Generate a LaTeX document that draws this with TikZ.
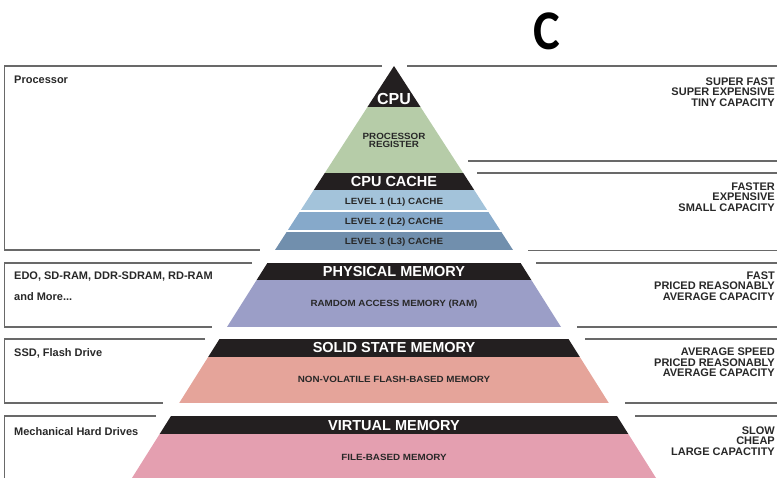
\documentclass[tikz,border=0pt]{standalone}
\usepackage{fontspec}
\setmainfont{Liberation Sans}
\newfontfamily\calfont{Carlito}[FakeStretch=0.9]
\newfontfamily\widefont{Liberation Sans}[FakeStretch=1.09]

\definecolor{bandblack}{RGB}{35,31,32}
\definecolor{reggreen}{RGB}{182,204,168}
\definecolor{lone}{RGB}{163,195,218}
\definecolor{ltwo}{RGB}{134,169,202}
\definecolor{lthree}{RGB}{113,143,173}
\definecolor{ramviolet}{RGB}{155,158,199}
\definecolor{flashsalmon}{RGB}{229,164,154}
\definecolor{filepink}{RGB}{228,159,176}
\definecolor{rulegray}{RGB}{105,105,105}
\definecolor{labeldark}{RGB}{40,40,40}

\begin{document}
\begin{tikzpicture}[x=1pt,y=-1pt,
  rule/.style={draw=rulegray, line width=1.3pt},
  bandtitle/.style={text=white, font=\bfseries\fontsize{14.5}{14.5}\selectfont, anchor=base, inner sep=0pt},
  bandtext/.style={text=labeldark, font=\widefont\bfseries\fontsize{9}{8.2}\selectfont, anchor=base, inner sep=0pt},
  sidenote/.style={text=labeldark, font=\bfseries\fontsize{11}{11}\selectfont, anchor=base west, inner sep=0pt},
  traits/.style={text=labeldark, font=\bfseries\fontsize{11}{10.3}\selectfont, align=right, anchor=east, inner sep=0pt}]

\useasboundingbox (0,0) rectangle (777,478);

% heading letter
\node[font=\calfont\bfseries\fontsize{56}{56}\selectfont, anchor=base, inner sep=0pt] (letter) at (547,50) {C};

% ---- tier 1: processor ----
\begin{scope}
  \clip (394,66) -- (275,250) -- (513,250) -- cycle;
  \fill[bandblack] (250,60) rectangle (540,107);
  \fill[reggreen] (250,107) rectangle (540,173);
  \fill[bandblack] (250,173) rectangle (540,190);
  \fill[lone] (250,190) rectangle (540,210);
  \fill[ltwo] (250,212) rectangle (540,230);
  \fill[lthree] (250,232) rectangle (540,250);
\end{scope}

% ---- tier 2: physical memory ----
\begin{scope}
  \clip (267.4,263) -- (520.6,263) -- (561,327) -- (227,327) -- cycle;
  \fill[bandblack] (200,263) rectangle (600,280);
  \fill[ramviolet] (200,280) rectangle (600,327);
\end{scope}

% ---- tier 3: solid state memory ----
\begin{scope}
  \clip (219.5,339) -- (568.5,339) -- (608.8,403) -- (179.2,403) -- cycle;
  \fill[bandblack] (150,339) rectangle (640,357);
  \fill[flashsalmon] (150,357) rectangle (640,403);
\end{scope}

% ---- tier 4: virtual memory ----
\begin{scope}
  \clip (171,416) -- (617,416) -- (656,478) -- (132,478) -- cycle;
  \fill[bandblack] (120,416) rectangle (670,434);
  \fill[filepink] (120,434) rectangle (670,478);
\end{scope}

% band labels
\node[bandtitle, font=\bfseries\fontsize{16}{16}\selectfont] (cpu) at (394,104.7) {CPU};
\node[bandtext, anchor=center, align=center] (reg) at (394,140.4) {PROCESSOR\\REGISTER};
\node[bandtitle] (cache) at (394,186.9) {CPU CACHE};
\node[bandtext] (l1) at (394,204.4) {LEVEL 1 (L1) CACHE};
\node[bandtext] (l2) at (394,224.4) {LEVEL 2 (L2) CACHE};
\node[bandtext] (l3) at (394,244.9) {LEVEL 3 (L3) CACHE};
\node[bandtitle] (phys) at (394,276.7) {PHYSICAL MEMORY};
\node[bandtext] (ram) at (394,306.7) {RAMDOM ACCESS MEMORY (RAM)};
\node[bandtitle] (ssm) at (394,352.9) {SOLID STATE MEMORY};
\node[bandtext] (flash) at (394,382.2) {NON-VOLATILE FLASH-BASED MEMORY};
\node[bandtitle] (virt) at (394,430.2) {VIRTUAL MEMORY};
\node[bandtext] (file) at (394,460.2) {FILE-BASED MEMORY};

% left frames
\draw[rule] (382,66) -- (4.5,66) -- (4.5,250) -- (260,250);
\draw[rule] (252,263) -- (4.5,263) -- (4.5,327) -- (212,327);
\draw[rule] (205,339) -- (4.5,339) -- (4.5,403) -- (163,403);
\draw[rule] (156,416) -- (4.5,416) -- (4.5,478);

% right rules
\draw[rule] (407,66) -- (777,66);
\draw[rule] (468,161) -- (777,161);
\draw[rule] (477,173) -- (777,173);
\draw[rule] (528,250.5) -- (777,250.5);
\draw[rule] (536,263) -- (777,263);
\draw[rule] (577,327) -- (777,327);
\draw[rule] (585,339) -- (777,339);
\draw[rule] (625,403) -- (777,403);
\draw[rule] (635,416) -- (777,416);

% left notes
\node[sidenote] (proc) at (14,83.8) {Processor};
\node[sidenote] (dram) at (14,279.8) {EDO, SD-RAM, DDR-SDRAM, RD-RAM};
\node[sidenote] (more) at (14,300.8) {and More...};
\node[sidenote] (ssd) at (14,356.8) {SSD, Flash Drive};
\node[sidenote] (hdd) at (14,435.8) {Mechanical Hard Drives};

% right traits
\node[traits] (t1) at (775,92) {SUPER FAST\\SUPER EXPENSIVE\\TINY CAPACITY};
\node[traits] (t2) at (775,197) {FASTER\\EXPENSIVE\\SMALL CAPACITY};
\node[traits] (t3) at (775,286) {FAST\\PRICED REASONABLY\\AVERAGE CAPACITY};
\node[traits] (t4) at (775,362.5) {AVERAGE SPEED\\PRICED REASONABLY\\AVERAGE CAPACITY};
\node[traits] (t5) at (775,441) {SLOW\\CHEAP\\LARGE CAPACTITY};
\end{tikzpicture}
\end{document}
